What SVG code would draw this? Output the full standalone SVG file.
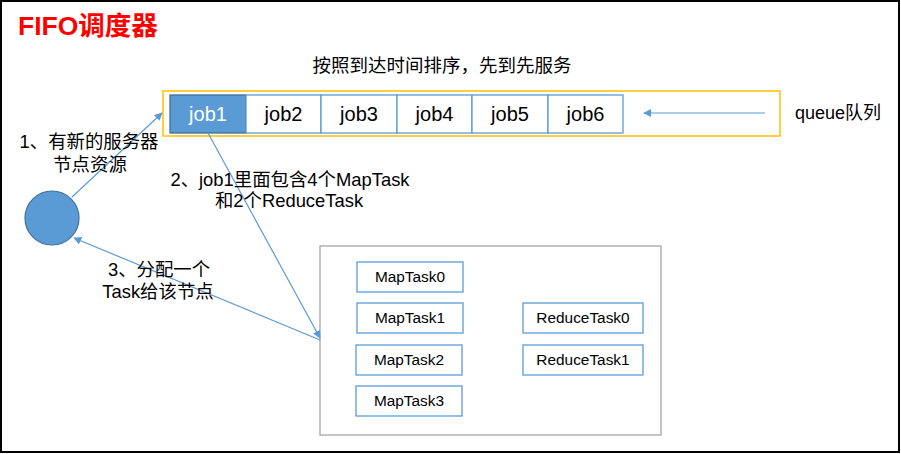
<svg xmlns="http://www.w3.org/2000/svg" width="901" height="454" viewBox="0 0 901 454">
<defs>
<marker id="ah" viewBox="0 0 10 10" refX="9" refY="5" markerWidth="8" markerHeight="8" markerUnits="userSpaceOnUse" orient="auto">
<path d="M0,0 L10,5 L0,10 z" fill="#5B9BD5"/>
</marker>
<style>
text{font-family:"Liberation Sans","Noto Sans CJK SC",sans-serif;fill:#000}
.lbl{font-size:18.4px;text-anchor:middle}
.job{font-size:20px;text-anchor:middle}
.task{font-size:15.4px;text-anchor:middle}
.box{fill:#fff;stroke:#5B9BD5;stroke-width:1.3}
.conn{stroke:#5B9BD5;stroke-width:1.2;fill:none}
</style>
</defs>
<rect x="0" y="0" width="901" height="454" fill="#fff"/>
<rect x="1" y="1" width="898" height="451" fill="none" stroke="#000" stroke-width="2"/>
<text x="18" y="35" style="font-size:26.5px;font-weight:bold;fill:#FF0000">FIFO调度器</text>
<text x="442" y="72" style="font-size:18.5px;text-anchor:middle">按照到达时间排序，先到先服务</text>
<g id="queue">
<rect x="163" y="91" width="617" height="45" fill="none" stroke="#FFC000" stroke-width="1.5"/>
<text x="795" y="119" style="font-size:18px">queue队列</text>
</g>
<g id="job1"><rect x="170" y="95" width="76" height="38" fill="#5B9BD5" stroke="#41719C" stroke-width="1.3"/><text class="job" x="208" y="121" style="fill:#fff">job1</text></g>
<g id="job2"><rect class="box" x="246" y="95" width="75" height="38"/><text class="job" x="283.5" y="121">job2</text></g>
<g id="job3"><rect class="box" x="321" y="95" width="76" height="38"/><text class="job" x="359" y="121">job3</text></g>
<g id="job4"><rect class="box" x="397" y="95" width="75" height="38"/><text class="job" x="434.5" y="121">job4</text></g>
<g id="job5"><rect class="box" x="472" y="95" width="76" height="38"/><text class="job" x="510" y="121">job5</text></g>
<g id="job6"><rect class="box" x="548" y="95" width="75" height="38"/><text class="job" x="585.5" y="121">job6</text></g>
<g id="node"><circle cx="52" cy="218" r="27" fill="#5B9BD5" stroke="#41719C" stroke-width="1.2"/></g>
<g id="cluster"><rect x="320" y="246" width="341" height="189" fill="#fff" stroke="#A6A6A6" stroke-width="1.3"/></g>
<g id="MapTask0"><rect class="box" x="357" y="262" width="106" height="30"/><text class="task" x="410" y="282">MapTask0</text></g>
<g id="MapTask1"><rect class="box" x="357" y="303" width="106" height="30"/><text class="task" x="410" y="323">MapTask1</text></g>
<g id="MapTask2"><rect class="box" x="356" y="345" width="106" height="30"/><text class="task" x="409" y="365">MapTask2</text></g>
<g id="MapTask3"><rect class="box" x="356" y="386" width="106" height="30"/><text class="task" x="409" y="406">MapTask3</text></g>
<g id="ReduceTask0"><rect class="box" x="523" y="303" width="120" height="30"/><text class="task" x="583" y="323">ReduceTask0</text></g>
<g id="ReduceTask1"><rect class="box" x="523" y="345" width="120" height="30"/><text class="task" x="583" y="365">ReduceTask1</text></g>
<g id="connectors">
<line class="conn" x1="765" y1="113" x2="644" y2="113" marker-end="url(#ah)"/>
<line class="conn" x1="72" y1="197" x2="162" y2="113" marker-end="url(#ah)"/>
<line class="conn" x1="208" y1="133" x2="320" y2="338" marker-end="url(#ah)"/>
<line class="conn" x1="320" y1="340" x2="74" y2="238" marker-end="url(#ah)"/>
</g>
<g id="labels">
<text class="lbl" x="89" y="148">1、有新的服务器</text>
<text class="lbl" x="90" y="171">节点资源</text>
<text class="lbl" x="290" y="186">2、job1里面包含4个MapTask</text>
<text class="lbl" x="289" y="207">和2个ReduceTask</text>
<text class="lbl" x="159" y="276">3、分配一个</text>
<text class="lbl" x="158" y="298">Task给该节点</text>
</g>
</svg>
